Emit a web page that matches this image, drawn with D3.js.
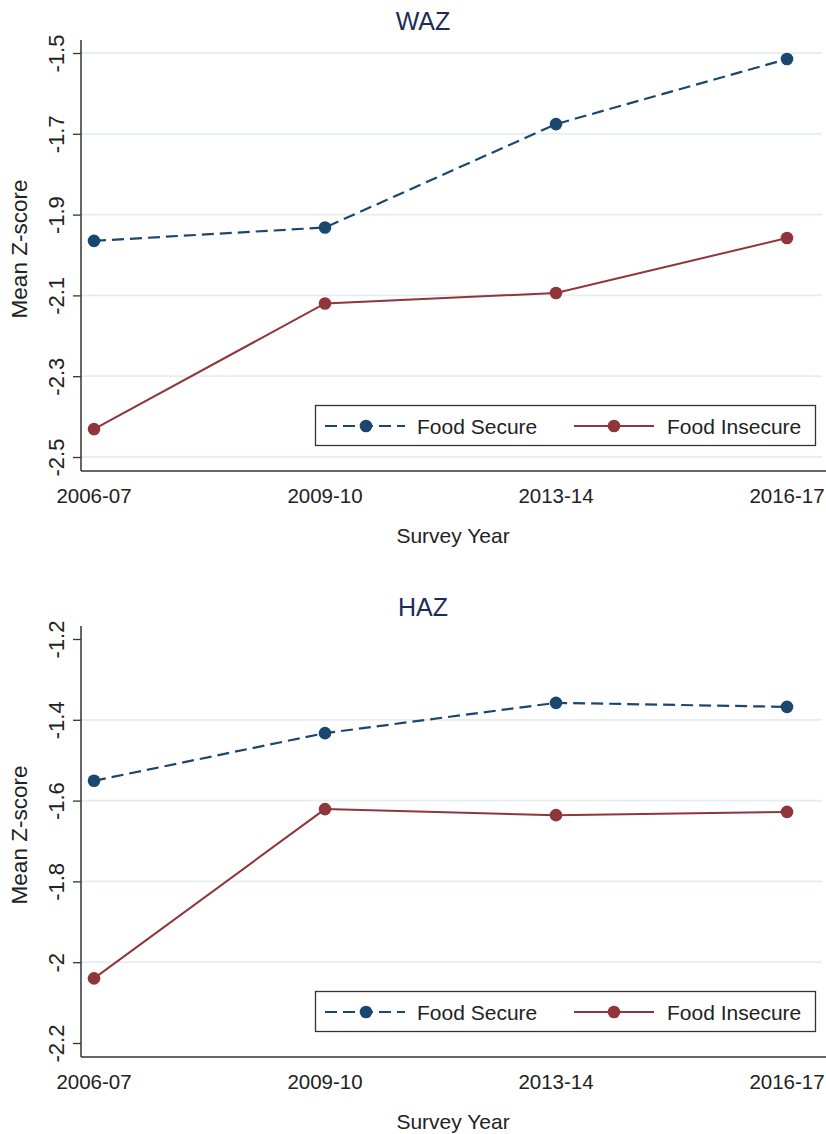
<!DOCTYPE html>
<html>
<head>
<meta charset="utf-8">
<script src="https://cdn.jsdelivr.net/npm/d3@7"></script>
<style>
  body { margin: 0; background: #fff; }
  svg { display: block; font-family: "Liberation Sans", Arial, sans-serif; }
</style>
</head>
<body>
<svg id="chart" width="826" height="1134"></svg>
<script>
const categories = ["2006-07", "2009-10", "2013-14", "2016-17"];
const wazSecure   = [-1.965, -1.932, -1.676, -1.515];
const wazInsecure = [-2.431, -2.120, -2.094, -1.958];
const hazSecure   = [-1.551, -1.433, -1.358, -1.368];
const hazInsecure = [-2.040, -1.621, -1.636, -1.628];
const wazTicks = [-1.5, -1.7, -1.9, -2.1, -2.3, -2.5];
const hazTicks = [-1.2, -1.4, -1.6, -1.8, -2, -2.2];
const seriesNames = ["Food Secure", "Food Insecure"];

const navy = "#1a476f", maroon = "#90353b", grid = "#e6eeee";
const svg = d3.select("#chart");

const x = d3.scalePoint().domain(categories).range([94, 787]);

function panel(offsetY, title, ticks, secure, insecure, gridSkip) {
  const g = svg.append("g").attr("transform", `translate(0,${offsetY})`);
  const y = d3.scaleLinear().domain([ticks[ticks.length - 1], ticks[0]]).range([457, 53]);
  const axTop = 40, axBot = 471, axLeft = 81, plotRight = 822;

  g.selectAll(".grid").data(ticks.filter(t => !gridSkip.includes(t))).enter().append("line")
    .attr("x1", axLeft + 1).attr("x2", plotRight)
    .attr("y1", d => y(d)).attr("y2", d => y(d))
    .attr("stroke", grid).attr("stroke-width", 1.8);

  const yAxis = d3.axisLeft(y).tickValues(ticks).tickSize(8).tickFormat(d => d3.format("")(d).replace("−", "-"));
  const ya = g.append("g").attr("transform", `translate(${axLeft},0)`).call(yAxis);
  ya.select(".domain").remove();
  ya.selectAll(".tick line").attr("stroke", "#333").attr("stroke-width", 1.3);
  ya.selectAll(".tick text")
    .attr("x", 0).attr("dy", 0)
    .attr("transform", "translate(-17,0) rotate(-90)")
    .attr("text-anchor", "middle")
    .attr("font-size", 22).attr("fill", "#222").attr("font-family", "Liberation Sans, Arial, sans-serif");
  g.append("line").attr("x1", axLeft).attr("x2", axLeft).attr("y1", axTop).attr("y2", axBot)
    .attr("stroke", "#333").attr("stroke-width", 1.5);

  g.append("line").attr("x1", axLeft).attr("x2", 826).attr("y1", axBot).attr("y2", axBot)
    .attr("stroke", "#333").attr("stroke-width", 1.5);
  g.selectAll(".xl").data(categories).enter().append("text")
    .attr("x", d => x(d)).attr("y", 503)
    .attr("text-anchor", "middle").attr("font-size", 20.5).attr("fill", "#222")
    .text(d => d);

  g.append("text").attr("x", 453).attr("y", 543).attr("text-anchor", "middle")
    .attr("font-size", 21).attr("fill", "#222").text("Survey Year");
  g.append("text").attr("transform", "translate(27,249) rotate(-90)").attr("text-anchor", "middle")
    .attr("font-size", 22.5).attr("fill", "#222").text("Mean Z-score");
  g.append("text").attr("x", 423).attr("y", 30).attr("text-anchor", "middle")
    .attr("font-size", 25).attr("fill", "#1e2b57").text(title);

  const line = d3.line().x((d, i) => x(categories[i])).y(d => y(d));
  g.append("path").datum(secure).attr("d", line).attr("fill", "none")
    .attr("stroke", navy).attr("stroke-width", 2.2).attr("stroke-dasharray", "12,6");
  g.append("path").datum(insecure).attr("d", line).attr("fill", "none")
    .attr("stroke", maroon).attr("stroke-width", 2);
  g.selectAll(".ms").data(secure).enter().append("circle")
    .attr("cx", (d, i) => x(categories[i])).attr("cy", d => y(d)).attr("r", 6.3).attr("fill", navy);
  g.selectAll(".mi").data(insecure).enter().append("circle")
    .attr("cx", (d, i) => x(categories[i])).attr("cy", d => y(d)).attr("r", 6.3).attr("fill", maroon);

  const lg = g.append("g");
  lg.append("rect").attr("x", 315.5).attr("y", 405.5).attr("width", 500).attr("height", 40)
    .attr("fill", "#fff").attr("stroke", "#333").attr("stroke-width", 1.3);
  lg.append("line").attr("x1", 325).attr("x2", 405).attr("y1", 426).attr("y2", 426)
    .attr("stroke", navy).attr("stroke-width", 2.2).attr("stroke-dasharray", "12,6");
  lg.append("circle").attr("cx", 366).attr("cy", 426).attr("r", 6.3).attr("fill", navy);
  lg.append("text").attr("x", 417).attr("y", 433.5).attr("font-size", 21).attr("fill", "#222").text(seriesNames[0]);
  lg.append("line").attr("x1", 574).attr("x2", 654).attr("y1", 426).attr("y2", 426)
    .attr("stroke", maroon).attr("stroke-width", 2);
  lg.append("circle").attr("cx", 614).attr("cy", 426).attr("r", 6.3).attr("fill", maroon);
  lg.append("text").attr("x", 667).attr("y", 433.5).attr("font-size", 21).attr("fill", "#222").text(seriesNames[1]);
}

panel(0, "WAZ", wazTicks, wazSecure, wazInsecure, []);
panel(586, "HAZ", hazTicks, hazSecure, hazInsecure, [-1.2, -2.2]);
</script>
</body>
</html>
